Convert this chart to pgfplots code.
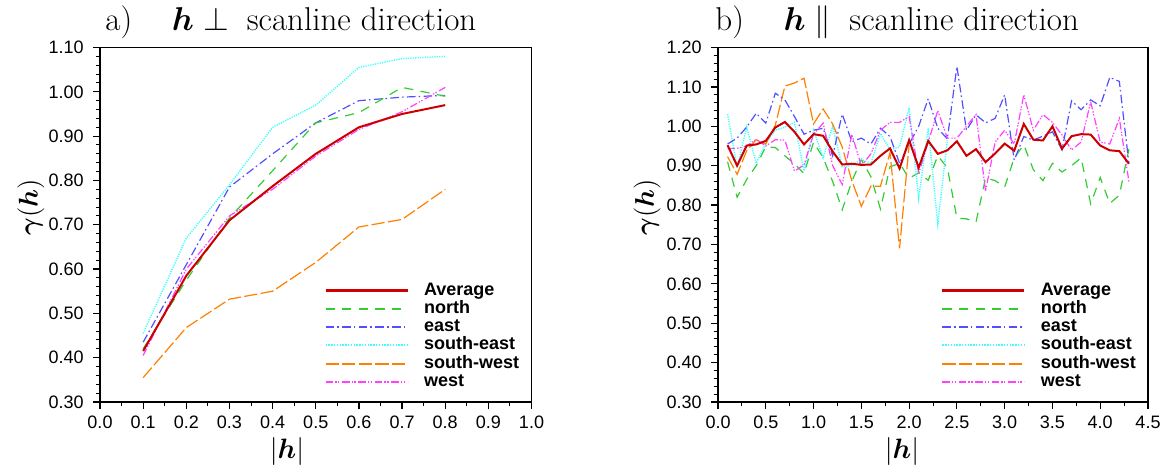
\RequirePackage{fix-cm}
\documentclass[border=0pt]{standalone}
\usepackage{amsmath}
\usepackage{fontspec}
\setsansfont{Liberation Sans}
\usepackage{pgfplots}
\pgfplotsset{compat=1.18}

\definecolor{avgred}{HTML}{CC0000}
\definecolor{northgreen}{HTML}{33CC33}
\definecolor{eastblue}{HTML}{5050FF}
\definecolor{secyan}{HTML}{3CFFFF}
\definecolor{sworange}{HTML}{FF8000}
\definecolor{westmag}{HTML}{FF40FF}

\tikzset{
  lavg/.style={draw=avgred, color=avgred, line width=1pt, solid},
  lnorth/.style={draw=northgreen, color=northgreen, line width=0.6pt, dash pattern=on 4.6pt off 3.7pt},
  least/.style={draw=eastblue, color=eastblue, line width=0.6pt, dash pattern=on 4.3pt off 1.5pt on 0.8pt off 1.7pt},
  lse/.style={draw=secyan, color=secyan, line width=0.7pt, dash pattern=on 0.6pt off 0.6pt},
  lsw/.style={draw=sworange, color=sworange, line width=0.6pt, dash pattern=on 6.6pt off 1.7pt},
  lwest/.style={draw=westmag, color=westmag, line width=0.6pt, dash pattern=on 3.8pt off 1pt on 0.7pt off 0.7pt on 0.7pt off 1.3pt},
}

\pgfplotsset{
  common/.style={
    scale only axis, anchor=south west, height=177.25pt,
    tick align=outside, xtick pos=bottom, ytick pos=left,
    major tick length=3.5pt, minor tick length=1.8pt,
    tick style={black, line width=0.6pt},
    axis line style={black, line width=0.9pt},
    every minor tick/.style={black, line width=0.5pt},
    /pgf/number format/assume math mode=true,
    tick label style={font=\fontsize{9}{10}\selectfont\sffamily},
    yticklabel style={xshift=-1.2pt, /pgf/number format/.cd, fixed, fixed zerofill, precision=2},
    xticklabel style={/pgf/number format/.cd, fixed, fixed zerofill, precision=1},
    minor y tick num=4, minor x tick num=1,
    no markers,
    legend cell align=left,
    legend image code/.code={\draw[##1] (0pt,0pt) -- (41pt,0pt);},
    legend style={anchor=south west, draw=none, fill=none, inner sep=0pt, outer sep=0pt,
      row sep=0pt, column sep=7pt,
      font=\fontsize{9}{10}\selectfont\sffamily\bfseries,
      nodes={inner sep=0.6pt, text height=6.3pt, text depth=1.65pt}},
  },
  leftax/.style={common, at={(50pt,35.5pt)}, width=215.75pt,
    xmin=0, xmax=1, ymin=0.3, ymax=1.1},
  rightax/.style={common, at={(359pt,35.5pt)}, width=215pt,
    xmin=0, xmax=4.5, ymin=0.3, ymax=1.2},
}

\begin{document}
\begin{tikzpicture}
% ---------------- left panel ----------------
\begin{axis}[leftax,
  xtick={0,0.1,0.2,0.3,0.4,0.5,0.6,0.7,0.8,0.9,1.0},
  ytick={0.3,0.4,0.5,0.6,0.7,0.8,0.9,1.0,1.1},
  legend style={at={(0.52,0.031)}}]
\addlegendimage{lavg, line width=1.25pt}\addlegendentry{Average}
\addlegendimage{lnorth, line width=1pt}\addlegendentry{north}
\addlegendimage{least, line width=1pt}\addlegendentry{east}
\addlegendimage{lse, line width=1pt, dash pattern=on 0.7pt off 0.7pt}\addlegendentry{south-east}
\addlegendimage{lsw, line width=1pt}\addlegendentry{south-west}
\addlegendimage{lwest, line width=1pt}\addlegendentry{west}
\addplot[lsw, forget plot] coordinates {(0.1,0.355) (0.2,0.468) (0.3,0.532) (0.4,0.550) (0.5,0.615) (0.6,0.695) (0.7,0.712) (0.8,0.780)};
\addplot[lse, forget plot] coordinates {(0.1,0.455) (0.2,0.670) (0.3,0.790) (0.4,0.920) (0.5,0.970) (0.6,1.055) (0.7,1.075) (0.8,1.080)};
\addplot[least, forget plot] coordinates {(0.1,0.435) (0.2,0.610) (0.3,0.785) (0.4,0.860) (0.5,0.930) (0.6,0.980) (0.7,0.988) (0.8,0.992)};
\addplot[lnorth, forget plot] coordinates {(0.1,0.420) (0.2,0.575) (0.3,0.715) (0.4,0.822) (0.5,0.930) (0.6,0.953) (0.7,1.010) (0.8,0.990)};
\addplot[lwest, forget plot] coordinates {(0.1,0.405) (0.2,0.600) (0.3,0.720) (0.4,0.780) (0.5,0.855) (0.6,0.915) (0.7,0.955) (0.8,1.010)};
\addplot[lavg, forget plot] coordinates {(0.1,0.415) (0.2,0.585) (0.3,0.710) (0.4,0.787) (0.5,0.860) (0.6,0.920) (0.7,0.950) (0.8,0.970)};
\end{axis}
% ---------------- right panel ----------------
\begin{axis}[rightax,
  xtick={0,0.5,1.0,1.5,2.0,2.5,3.0,3.5,4.0,4.5},
  ytick={0.3,0.4,0.5,0.6,0.7,0.8,0.9,1.0,1.1,1.2},
  legend style={at={(0.519,0.031)}}]
\addlegendimage{lavg, line width=1.25pt}\addlegendentry{Average}
\addlegendimage{lnorth, line width=1pt}\addlegendentry{north}
\addlegendimage{least, line width=1pt}\addlegendentry{east}
\addlegendimage{lse, line width=1pt, dash pattern=on 0.7pt off 0.7pt}\addlegendentry{south-east}
\addlegendimage{lsw, line width=1pt}\addlegendentry{south-west}
\addlegendimage{lwest, line width=1pt}\addlegendentry{west}
% north
\addplot[lnorth, forget plot] coordinates {
(0.1,0.910) (0.2,0.820) (0.3,0.865) (0.4,0.900) (0.5,0.948) (0.6,0.946) (0.7,0.925) (0.8,0.905) (0.9,0.880) (1.0,0.960)
(1.1,0.920) (1.2,0.860) (1.3,0.788) (1.4,0.860) (1.5,0.916) (1.6,0.872) (1.7,0.790) (1.8,0.897) (1.9,0.906) (2.0,0.868)
(2.1,0.882) (2.2,0.863) (2.3,0.925) (2.4,0.895) (2.5,0.767) (2.6,0.765) (2.7,0.757) (2.8,0.869) (2.9,0.862) (3.0,0.846)
(3.1,0.920) (3.2,0.953) (3.3,0.890) (3.4,0.862) (3.5,0.906) (3.6,0.884) (3.7,0.900) (3.8,0.920) (3.9,0.803) (4.0,0.870)
(4.1,0.804) (4.2,0.825) (4.3,0.942)};
% south-east (0.1 .. 2.4)
\addplot[lse, forget plot] coordinates {
(0.1,1.031) (0.2,0.895) (0.3,0.998) (0.4,0.906) (0.5,0.957) (0.6,0.990) (0.7,0.998) (0.8,1.010) (0.9,0.887) (1.0,0.990)
(1.1,0.920) (1.2,1.000) (1.3,0.897) (1.4,0.900) (1.5,0.916) (1.6,0.906) (1.7,0.982) (1.8,0.940) (1.9,0.948) (2.0,1.047)
(2.1,0.817) (2.2,0.995) (2.3,0.752) (2.4,0.965)};
% south-west (0.1 .. 2.0)
\addplot[lsw, forget plot] coordinates {
(0.1,0.923) (0.2,0.878) (0.3,0.938) (0.4,0.966) (0.5,0.955) (0.6,1.003) (0.7,1.102) (0.8,1.110) (0.9,1.122) (1.0,1.006)
(1.1,1.044) (1.2,1.006) (1.3,0.947) (1.4,0.862) (1.5,0.797) (1.6,0.848) (1.7,0.848) (1.8,0.933) (1.9,0.690) (2.0,0.953)};
% east
\addplot[least, forget plot] coordinates {
(0.1,0.955) (0.2,0.970) (0.3,0.998) (0.4,1.033) (0.5,1.008) (0.6,1.084) (0.7,1.067) (0.8,1.025) (0.9,0.980) (1.0,0.990)
(1.1,0.995) (1.2,0.925) (1.3,1.031) (1.4,0.961) (1.5,0.970) (1.6,0.955) (1.7,0.995) (1.8,0.974) (1.9,0.906) (2.0,0.955)
(2.1,1.000) (2.2,1.070) (2.3,0.995) (2.4,0.968) (2.5,1.152) (2.6,0.990) (2.7,1.029) (2.8,1.009) (2.9,1.020) (3.0,1.080)
(3.1,0.914) (3.2,0.974) (3.3,0.965) (3.4,0.975) (3.5,0.986) (3.6,0.940) (3.7,1.065) (3.8,1.042) (3.9,1.067) (4.0,1.052)
(4.1,1.124) (4.2,1.114) (4.3,0.906)};
% west
\addplot[lwest, forget plot] coordinates {
(0.1,0.944) (0.2,0.944) (0.3,0.950) (0.4,0.967) (0.5,0.950) (0.6,0.966) (0.7,0.965) (0.8,0.886) (0.9,0.902) (1.0,0.980)
(1.1,1.008) (1.2,0.900) (1.3,0.852) (1.4,0.980) (1.5,0.900) (1.6,0.930) (1.7,0.990) (1.8,1.010) (1.9,1.010) (2.0,1.025)
(2.1,0.880) (2.2,0.960) (2.3,1.040) (2.4,0.970) (2.5,0.970) (2.6,1.000) (2.7,1.030) (2.8,0.835) (2.9,0.960) (3.0,0.990)
(3.1,0.955) (3.2,1.080) (3.3,0.990) (3.4,1.030) (3.5,1.010) (3.6,0.978) (3.7,0.940) (3.8,0.960) (3.9,1.062) (4.0,0.960)
(4.1,0.955) (4.2,1.020) (4.3,0.860)};
% average
\addplot[lavg, forget plot] coordinates {
(0.1,0.952) (0.2,0.900) (0.3,0.951) (0.4,0.954) (0.5,0.963) (0.6,0.997) (0.7,1.011) (0.8,0.986) (0.9,0.954) (1.0,0.980)
(1.1,0.976) (1.2,0.936) (1.3,0.903) (1.4,0.905) (1.5,0.902) (1.6,0.903) (1.7,0.925) (1.8,0.944) (1.9,0.893) (2.0,0.965)
(2.1,0.895) (2.2,0.963) (2.3,0.930) (2.4,0.939) (2.5,0.962) (2.6,0.925) (2.7,0.942) (2.8,0.909) (2.9,0.931) (3.0,0.956)
(3.1,0.938) (3.2,1.006) (3.3,0.966) (3.4,0.964) (3.5,1.000) (3.6,0.943) (3.7,0.975) (3.8,0.980) (3.9,0.979) (4.0,0.951)
(4.1,0.939) (4.2,0.937) (4.3,0.905)};
\end{axis}
% ---------------- titles and labels ----------------
\node[anchor=base west, inner sep=0pt, font=\fontsize{16.5}{19}\selectfont] at (52.5pt,221.5pt)
  {a)\hspace{1.2em}$\boldsymbol{h}\perp$\hspace{0.55em}scanline direction};
\node[anchor=base west, inner sep=0pt, font=\fontsize{16.5}{19}\selectfont] at (357.5pt,221.5pt)
  {b)\hspace{1.2em}$\boldsymbol{h}\parallel$\hspace{0.55em}scanline direction};
\node[rotate=90, inner sep=0pt, font=\fontsize{13.5}{16}\selectfont] at (15.5pt,133pt) {$\boldsymbol{\gamma}(\boldsymbol{h})$};
\node[rotate=90, inner sep=0pt, font=\fontsize{13.5}{16}\selectfont] at (323.5pt,133pt) {$\boldsymbol{\gamma}(\boldsymbol{h})$};
\node[inner sep=0pt, font=\fontsize{14}{16}\selectfont] at (143.5pt,11pt) {$|\boldsymbol{h}|$};
\node[inner sep=0pt, font=\fontsize{14}{16}\selectfont] at (451pt,11pt) {$|\boldsymbol{h}|$};
\pgfresetboundingbox
\path[use as bounding box] (0,0) rectangle (585.5pt,236.5pt);
\end{tikzpicture}
\end{document}
